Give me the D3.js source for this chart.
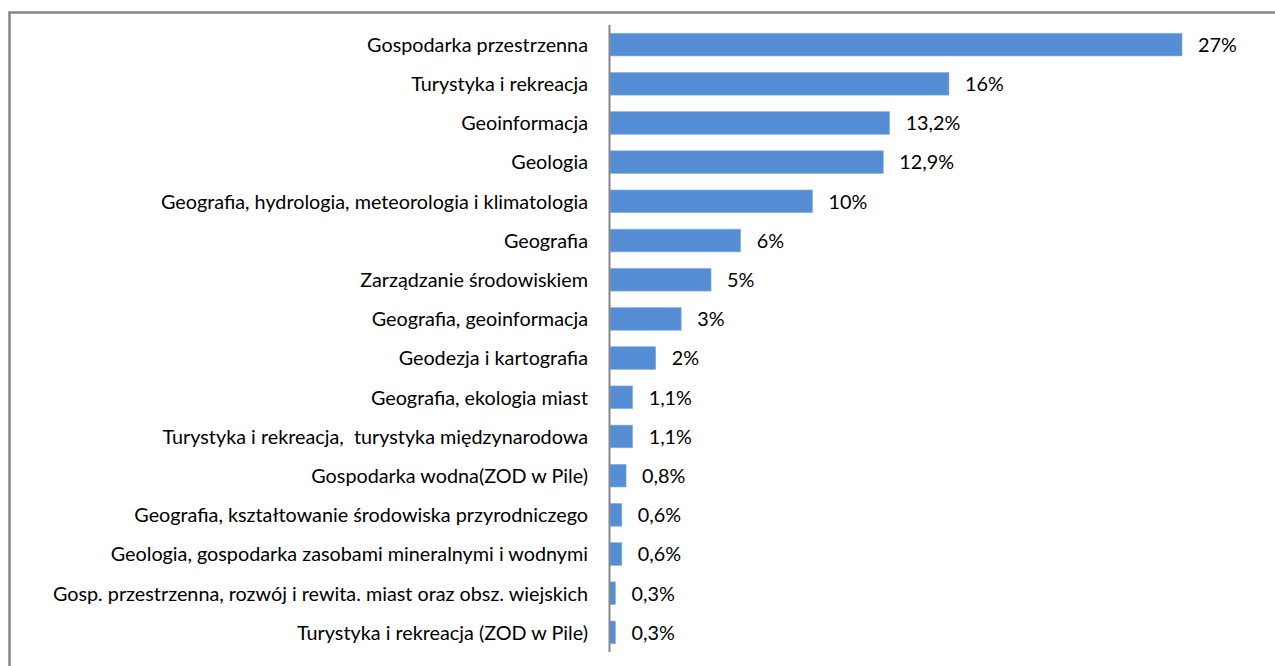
<!DOCTYPE html>
<html>
<head>
<meta charset="utf-8">
<script src="https://cdn.jsdelivr.net/npm/d3@7"></script>
<style>
  body { margin: 0; background: #fff; }
  text { font-family: Lato, "Open Sans", sans-serif; fill: #000; white-space: pre; }
</style>
</head>
<body>
<div class="barChart"></div>
<script>
var categories = [
  "Gospodarka przestrzenna",
  "Turystyka i rekreacja",
  "Geoinformacja",
  "Geologia",
  "Geografia, hydrologia, meteorologia i klimatologia",
  "Geografia",
  "Zarządzanie środowiskiem",
  "Geografia, geoinformacja",
  "Geodezja i kartografia",
  "Geografia, ekologia miast",
  "Turystyka i rekreacja,  turystyka międzynarodowa",
  "Gospodarka wodna(ZOD w Pile)",
  "Geografia, kształtowanie środowiska przyrodniczego",
  "Geologia, gospodarka zasobami mineralnymi i wodnymi",
  "Gosp. przestrzenna, rozwój i rewita. miast oraz obsz. wiejskich",
  "Turystyka i rekreacja (ZOD w Pile)"
];
// bar lengths (percent)
var values = [27, 16, 13.2, 12.9, 9.56, 6.17, 4.77, 3.36, 2.16, 1.07, 1.07, 0.76, 0.56, 0.56, 0.26, 0.26];
// data labels as printed on the chart
var valueLabels = ["27%", "16%", "13,2%", "12,9%", "10%", "6%", "5%", "3%", "2%",
                   "1,1%", "1,1%", "0,8%", "0,6%", "0,6%", "0,3%", "0,3%"];

plotBarChart();

function plotBarChart(){
  var width = 1275, height = 666;
  var margin = {top: 25, bottom: 14, left: 610, right: 93};

  var svg = d3.select(".barChart")
              .append("svg")
              .attr("width", width)
              .attr("height", height);

  // outer chart frame (right and bottom edges fall outside the picture)
  svg.append("rect")
     .attr("x", 9.5).attr("y", 12.5)
     .attr("width", width + 20).attr("height", height + 20)
     .attr("fill", "none")
     .attr("stroke", "#878787")
     .attr("stroke-width", 2.5);

  var x = d3.scaleLinear()
            .domain([0, 27])
            .range([margin.left, width - margin.right]);

  var y = d3.scaleBand()
            .domain(categories)
            .range([margin.top, height - margin.bottom])
            .paddingInner(0.42)
            .paddingOuter(0.21);

  var rows = svg.selectAll(".row")
                .data(categories)
                .enter()
                .append("g")
                .attr("class", "row");

  rows.append("rect")
      .attr("x", x(0))
      .attr("y", function(d){ return y(d); })
      .attr("width", function(d, i){ return x(values[i]) - x(0); })
      .attr("height", y.bandwidth())
      .attr("fill", "#558ed5")
      .attr("stroke", "#8db3e2")
      .attr("stroke-width", 0.6);

  // category labels
  rows.append("text")
      .attr("x", x(0) - 22)
      .attr("y", function(d){ return y(d) + y.bandwidth() / 2; })
      .attr("dy", "0.37em")
      .attr("text-anchor", "end")
      .style("font-size", "19.8px")
      .text(function(d){ return d; });

  // value labels
  rows.append("text")
      .attr("x", function(d, i){ return x(values[i]) + 16; })
      .attr("y", function(d){ return y(d) + y.bandwidth() / 2; })
      .attr("dy", "0.37em")
      .style("font-size", "19.8px")
      .text(function(d, i){ return valueLabels[i]; });

  // vertical category axis line
  svg.append("line")
     .attr("x1", x(0) - 0.5).attr("x2", x(0) - 0.5)
     .attr("y1", margin.top).attr("y2", height - margin.bottom)
     .attr("stroke", "#868686")
     .attr("stroke-width", 2);
}
</script>
</body>
</html>
